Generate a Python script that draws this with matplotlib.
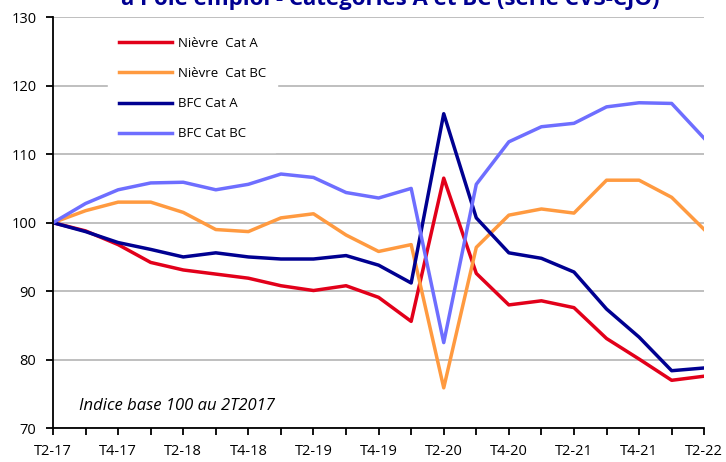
import matplotlib.pyplot as plt

# quarters T2-17 .. T2-22
quarters = ['T2-17', 'T3-17', 'T4-17', 'T1-18', 'T2-18', 'T3-18', 'T4-18',
            'T1-19', 'T2-19', 'T3-19', 'T4-19', 'T1-20', 'T2-20', 'T3-20',
            'T4-20', 'T1-21', 'T2-21', 'T3-21', 'T4-21', 'T1-22', 'T2-22']

nievre_a = [100, 98.8, 96.8, 94.2, 93.1, 92.5, 91.9, 90.8, 90.1, 90.8, 89.1,
            85.6, 106.5, 92.6, 88.0, 88.6, 87.6, 83.1, 80.1, 77.0, 77.6]
nievre_bc = [100, 101.75, 103.0, 103.0, 101.5, 99.0, 98.7, 100.7, 101.3, 98.2, 95.8,
             96.8, 75.9, 96.4, 101.1, 102.0, 101.4, 106.2, 106.2, 103.7, 99.0]
bfc_a = [100, 98.7, 97.1, 96.1, 95.0, 95.6, 95.0, 94.7, 94.7, 95.2, 93.8,
         91.2, 115.9, 100.7, 95.6, 94.8, 92.8, 87.4, 83.3, 78.4, 78.8]
bfc_bc = [100, 102.8, 104.8, 105.8, 105.9, 104.8, 105.6, 107.1, 106.6, 104.4, 103.6,
          105.0, 82.5, 105.6, 111.8, 114.0, 114.5, 116.9, 117.5, 117.4, 112.3]

plt.rcParams['font.family'] = ['Open Sans', 'DejaVu Sans']

fig = plt.figure(figsize=(7.26, 4.62), dpi=100)
ax = fig.add_axes([0.073, 0.073, 0.897, 0.89])

x = list(range(len(quarters)))
ax.plot(x, nievre_a, color='#E2001A', lw=2.5, label='Nièvre  Cat A')
ax.plot(x, nievre_bc, color='#FF9A40', lw=2.5, label='Nièvre  Cat BC')
ax.plot(x, bfc_a, color='#000091', lw=2.5, label='BFC Cat A')
ax.plot(x, bfc_bc, color='#6E6EFF', lw=2.5, label='BFC Cat BC')

ax.set_xlim(0, 20)
ax.set_ylim(70, 130)
ax.set_yticks(range(70, 131, 10))
ax.set_xticks(x)
ax.set_xticklabels([q if i % 2 == 0 else '' for i, q in enumerate(quarters)])
ax.grid(axis='y', color='#BFBFBF', lw=1.4)
ax.set_axisbelow(True)

for s in ['top', 'right']:
    ax.spines[s].set_visible(False)
for s in ['left', 'bottom']:
    ax.spines[s].set_color('black')
    ax.spines[s].set_linewidth(1.3)
ax.tick_params(axis='both', direction='out', length=5, width=1.3, labelsize=10.5)
ax.tick_params(axis='x', pad=6)
ax.tick_params(axis='y', pad=7)

leg = ax.legend(loc='upper left', bbox_to_anchor=(0.074, 0.995), frameon=True,
                fontsize=9.5, handlelength=4.0, labelspacing=1.3, borderpad=0.85,
                handletextpad=0.45)
leg.get_frame().set_facecolor('white')
leg.get_frame().set_edgecolor('white')
leg.get_frame().set_alpha(1)

ax.text(0.8, 73.2, 'Indice base 100 au 2T2017', style='italic', fontsize=12,
        va='center', ha='left')

fig.text(0.537, 0.989, 'à Pôle emploi - Catégories A et BC (série CVS-CJO)',
         color='#000091', fontweight='bold', fontsize=16, ha='center', va='baseline')

fig.savefig('out.png', dpi=100)
